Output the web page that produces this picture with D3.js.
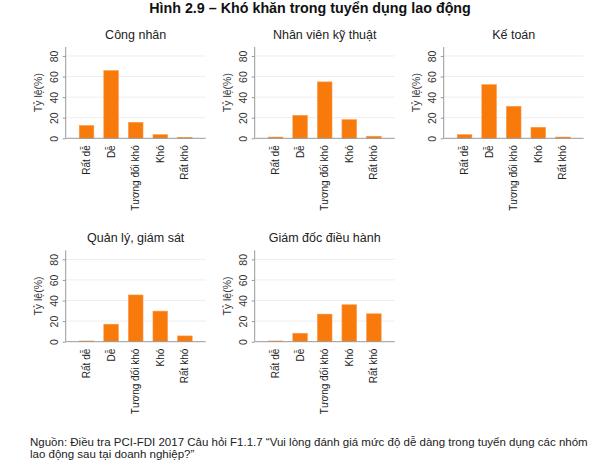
<!DOCTYPE html>
<html>
<head>
<meta charset="utf-8">
<script src="https://cdn.jsdelivr.net/npm/d3@7/dist/d3.min.js"></script>
<style>
  body { margin: 0; background: #fff; }
  svg { display: block; font-family: "Liberation Sans", Arial, Helvetica, sans-serif; }
</style>
</head>
<body>
<svg id="chart" width="600" height="464"></svg>
<script>
const categories = ["Rất dễ", "Dễ", "Tương đối khó", "Khó", "Rất khó"];
const panelTitles = ["Công nhân", "Nhân viên kỹ thuật", "Kế toán", "Quản lý, giám sát", "Giám đốc điều hành"];
const congNhan = [12.4, 65.8, 15.5, 3.5, 1.0];
const nhanVienKyThuat = [1.2, 22.3, 54.8, 18.1, 2.0];
const keToan = [3.5, 52.1, 31.1, 10.7, 1.2];
const quanLyGiamSat = [0.7, 17.0, 45.4, 29.7, 5.6];
const giamDocDieuHanh = [0.7, 8.2, 26.8, 35.9, 27.1];
const yTicks = [0, 20, 40, 60, 80];
const yLabel = "Tỷ lệ(%)";
const mainTitle = "Hình 2.9 – Khó khăn trong tuyển dụng lao động";
const sourceLines = [
  "Nguồn: Điều tra PCI-FDI 2017 Câu hỏi F1.1.7 “Vui lòng đánh giá mức độ dễ dàng trong tuyển dụng các nhóm",
  "lao động sau tại doanh nghiệp?”"
];

const seriesList = [congNhan, nhanVienKyThuat, keToan, quanLyGiamSat, giamDocDieuHanh];

const svg = d3.select("#chart");
const W = 140, H = 91.3;
const colX = [65.7, 254.7, 443.7];
const rowY = [138.3, 341.7];
const titleY = [38.5, 242];
const placements = [[0,0],[1,0],[2,0],[0,1],[1,1]];

svg.append("text")
  .attr("x", 310).attr("y", 13)
  .attr("text-anchor", "middle")
  .attr("font-size", 14.3).attr("font-weight", "bold")
  .attr("fill", "#111")
  .text(mainTitle);

seriesList.forEach((vals, i) => {
  const [c, r] = placements[i];
  const x0 = colX[c], yBase = rowY[r];
  const g = svg.append("g").attr("transform", `translate(${x0},${yBase - H})`);

  const x = d3.scaleBand().domain(categories).range([0, W]).paddingInner(0.405).paddingOuter(0.55);
  const y = d3.scaleLinear().domain([0, 88.7]).range([H, 0]);

  g.selectAll("line.grid").data(yTicks.filter(t => t > 0)).join("line")
    .attr("class", "grid")
    .attr("x1", 0).attr("x2", W)
    .attr("y1", d => y(d)).attr("y2", d => y(d))
    .attr("stroke", "#eeeeee").attr("stroke-width", 1);

  g.selectAll("rect").data(vals).join("rect")
    .attr("x", (d, j) => x(categories[j]))
    .attr("width", x.bandwidth())
    .attr("y", d => y(d))
    .attr("height", d => H - y(d))
    .attr("fill", "#f77a0a")
    .attr("stroke", "#fa9a50").attr("stroke-width", 0.6);

  const yAxis = d3.axisLeft(y).tickValues(yTicks).tickSize(3).tickPadding(0).tickFormat(d3.format("d"));
  const ya = g.append("g").call(yAxis);
  ya.select(".domain").attr("stroke", "#999").attr("d", `M0,0V${H}`);
  ya.selectAll(".tick line").attr("stroke", "#999");
  ya.selectAll(".tick text")
    .attr("transform", "rotate(-90)")
    .attr("x", 0).attr("y", -11).attr("dy", "0.35em")
    .attr("text-anchor", "middle")
    .attr("font-size", 10.5).attr("fill", "#333")
    .attr("font-family", "Liberation Sans, Arial, sans-serif");

  const xAxis = d3.axisBottom(x).tickSize(0).tickPadding(0);
  const xa = g.append("g").attr("transform", `translate(0,${H})`).call(xAxis);
  xa.select(".domain").attr("stroke", "#999").attr("d", `M0,0H${W}`);
  xa.selectAll(".tick text")
    .attr("transform", "rotate(-90)")
    .attr("x", -7).attr("y", 0).attr("dy", "0.35em")
    .attr("text-anchor", "end")
    .attr("font-size", 10).attr("fill", "#222")
    .attr("font-family", "Liberation Sans, Arial, sans-serif");

  g.append("text")
    .attr("transform", `translate(-27,${H / 2}) rotate(-90)`)
    .attr("dy", "0.35em")
    .attr("text-anchor", "middle")
    .attr("font-size", 10.5).attr("fill", "#333")
    .text(yLabel);

  svg.append("text")
    .attr("x", x0 + W / 2).attr("y", titleY[r])
    .attr("text-anchor", "middle")
    .attr("font-size", 12.5).attr("fill", "#222")
    .text(panelTitles[i]);
});

const src = svg.append("text").attr("font-size", 11.5).attr("fill", "#222");
sourceLines.forEach((line, k) => {
  src.append("tspan").attr("x", 30).attr("y", 446 + k * 12).text(line);
});
</script>
</body>
</html>
